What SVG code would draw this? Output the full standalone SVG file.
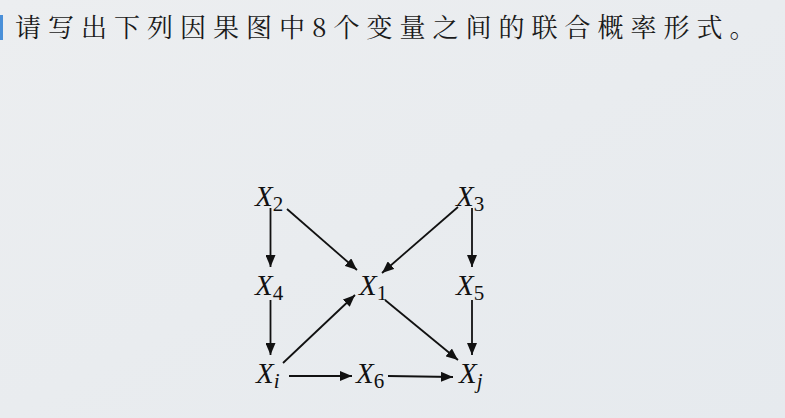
<svg xmlns="http://www.w3.org/2000/svg" width="785" height="418" viewBox="0 0 785 418">
<defs>
<linearGradient id="bg" x1="0" y1="0" x2="1" y2="1">
<stop offset="0" stop-color="#eceef0"/>
<stop offset="1" stop-color="#e6eaee"/>
</linearGradient>
<marker id="ah" viewBox="0 0 12 10" refX="12" refY="5" markerWidth="12" markerHeight="10" markerUnits="userSpaceOnUse" orient="auto">
<path d="M0,0 L12,5 L0,10 Z" fill="#111"/>
</marker>
<style>
.title{font-family:"Noto Serif CJK SC","Noto Sans CJK SC",serif;font-size:26px;fill:#1a1a1a;letter-spacing:7px}
.v{font-family:"Liberation Serif",serif;font-size:29px;font-style:italic;fill:#111}
.s{font-family:"Liberation Serif",serif;font-size:21px;font-style:normal}
.si{font-family:"Liberation Serif",serif;font-size:21px;font-style:italic}
.e{stroke:#111;stroke-width:1.8;fill:none;marker-end:url(#ah)}
</style>
</defs>
<rect width="785" height="418" fill="url(#bg)"/>
<rect x="0" y="15" width="3" height="25" fill="#4a90d9"/>
<text class="title" x="15" y="37">请写出下列因果图中8个变量之间的联合概率形式。</text>
<g id="connectors">
<line class="e" x1="270.5" y1="208" x2="270.5" y2="267"/>
<line class="e" x1="472" y1="208" x2="472" y2="267"/>
<line class="e" x1="287" y1="209" x2="357" y2="270"/>
<line class="e" x1="458" y1="207" x2="382" y2="273"/>
<line class="e" x1="270.5" y1="300" x2="270.5" y2="355"/>
<line class="e" x1="472" y1="300" x2="472" y2="355"/>
<line class="e" x1="283" y1="363" x2="355" y2="295"/>
<line class="e" x1="385" y1="300" x2="458" y2="360"/>
<line class="e" x1="289" y1="376" x2="352" y2="376"/>
<line class="e" x1="388" y1="376" x2="453" y2="377"/>
</g>
<g id="X2"><text class="v" x="255" y="206">X<tspan class="s" dy="5">2</tspan></text></g>
<g id="X3"><text class="v" x="456" y="206">X<tspan class="s" dy="5">3</tspan></text></g>
<g id="X4"><text class="v" x="255" y="295">X<tspan class="s" dy="5">4</tspan></text></g>
<g id="X1"><text class="v" x="359" y="295">X<tspan class="s" dy="5">1</tspan></text></g>
<g id="X5"><text class="v" x="456" y="295">X<tspan class="s" dy="5">5</tspan></text></g>
<g id="Xi"><text class="v" x="256" y="383">X<tspan class="si" dy="5">i</tspan></text></g>
<g id="X6"><text class="v" x="356" y="383">X<tspan class="s" dy="5">6</tspan></text></g>
<g id="Xj"><text class="v" x="459" y="383">X<tspan class="si" dy="5">j</tspan></text></g>
</svg>
